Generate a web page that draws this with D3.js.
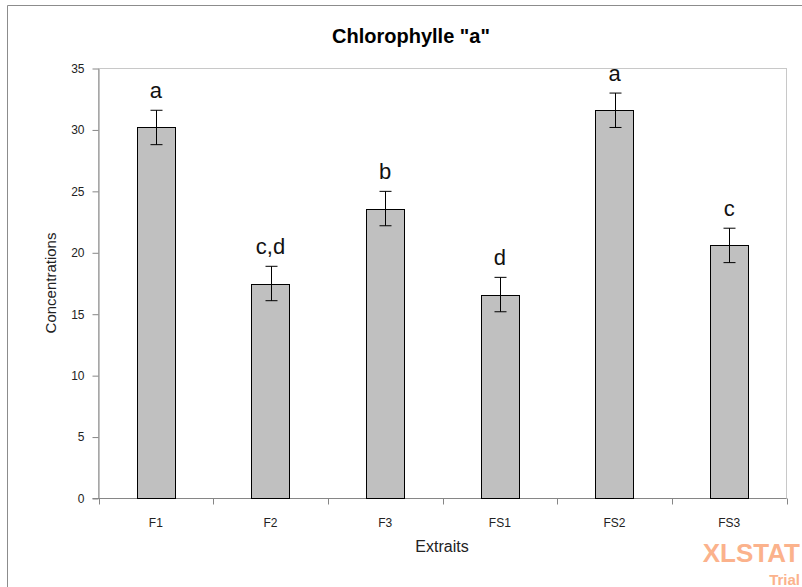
<!DOCTYPE html>
<html>
<head>
<meta charset="utf-8">
<script src="https://cdn.jsdelivr.net/npm/d3@7"></script>
<style>
body { margin: 0; background: #fff; }
</style>
</head>
<body>
<div id="chart-area"></div>
<script>
let width = 802,
height = 587;

// data
let categories = ["F1", "F2", "F3", "FS1", "FS2", "FS3"];
let means = [30.2, 17.5, 23.6, 16.6, 31.6, 20.6];
let errors = [1.4, 1.4, 1.4, 1.4, 1.4, 1.4];
let groups = ["a", "c,d", "b", "d", "a", "c"];
let yTicks = [0, 5, 10, 15, 20, 25, 30, 35];

let narrow = "'Liberation Sans Narrow', 'Arial Narrow', 'Liberation Sans', Arial, sans-serif";

let svg = d3.select("#chart-area").append("svg")
	.attr("width", width)
	.attr("height", height);

// outer chart border
svg.append("path")
	.attr("d", "M7.5," + height + "V5.5H" + width)
	.attr("fill", "none")
	.attr("stroke", "#8c8c8c");

let pLeft = 98.5, pRight = 786.5, pTop = 68.5, pBottom = 498.5;

let x = d3.scaleBand()
	.domain(categories)
	.range([pLeft, pRight]);

let y = d3.scaleLinear()
	.domain([0, 35])
	.range([pBottom, pTop]);

// plot area frame
svg.append("rect")
	.attr("x", pLeft)
	.attr("y", pTop)
	.attr("width", pRight - pLeft)
	.attr("height", pBottom - pTop)
	.attr("fill", "none")
	.attr("stroke", "#c8c8c8");

// y axis
let yAxis = svg.append("g")
	.attr("transform", "translate(" + pLeft + ",0)")
	.call(d3.axisLeft(y).tickValues(yTicks).tickSize(6).tickPadding(8).tickSizeOuter(0));
yAxis.select(".domain").attr("stroke", "#868686");
yAxis.selectAll(".tick line").attr("stroke", "#868686");
yAxis.selectAll("text")
	.attr("font-family", narrow)
	.attr("font-size", 12)
	.attr("fill", "#222");

// x axis, ticks between categories
let xAxis = svg.append("g")
	.attr("transform", "translate(0," + pBottom + ")");
xAxis.append("line")
	.attr("x1", pLeft - 6).attr("x2", pRight)
	.attr("stroke", "#868686");
let edges = categories.map(c => x(c)).concat([pRight]);
xAxis.selectAll(".xt")
	.data(edges)
	.enter().append("line")
	.attr("class", "xt")
	.attr("x1", d => Math.round(d) + 0.5)
	.attr("x2", d => Math.round(d) + 0.5)
	.attr("y1", 0)
	.attr("y2", 6)
	.attr("stroke", "#868686");
xAxis.selectAll(".xl")
	.data(categories)
	.enter().append("text")
	.attr("class", "xl")
	.attr("x", d => x(d) + x.bandwidth() / 2)
	.attr("y", 28)
	.attr("text-anchor", "middle")
	.attr("font-family", narrow)
	.attr("font-size", 12)
	.attr("fill", "#222")
	.text(d => d);

// bars
let barW = x.bandwidth() * 0.335;
svg.selectAll(".bar")
	.data(categories)
	.enter().append("rect")
	.attr("class", "bar")
	.attr("x", d => Math.round(x(d) + x.bandwidth() / 2 - barW / 2) + 0.5)
	.attr("width", Math.round(barW))
	.attr("y", (d, i) => Math.round(y(means[i])) + 0.5)
	.attr("height", (d, i) => pBottom - (Math.round(y(means[i])) + 0.5))
	.attr("fill", "#c0c0c0")
	.attr("stroke", "#000")
	.attr("stroke-width", 1);

// error bars
let eb = svg.selectAll(".err")
	.data(categories)
	.enter().append("g")
	.attr("class", "err")
	.attr("transform", d => "translate(" + (Math.round(x(d) + x.bandwidth() / 2) + 0.5) + ",0)");
eb.append("line")
	.attr("y1", (d, i) => y(means[i] + errors[i]))
	.attr("y2", (d, i) => y(means[i] - errors[i]))
	.attr("stroke", "#000");
eb.append("line")
	.attr("x1", -6).attr("x2", 6)
	.attr("y1", (d, i) => y(means[i] + errors[i]))
	.attr("y2", (d, i) => y(means[i] + errors[i]))
	.attr("stroke", "#000");
eb.append("line")
	.attr("x1", -6).attr("x2", 6)
	.attr("y1", (d, i) => y(means[i] - errors[i]))
	.attr("y2", (d, i) => y(means[i] - errors[i]))
	.attr("stroke", "#000");

// group letters
svg.selectAll(".grp")
	.data(categories)
	.enter().append("text")
	.attr("class", "grp")
	.attr("x", d => x(d) + x.bandwidth() / 2)
	.attr("y", (d, i) => y(means[i] + errors[i]) - 12)
	.attr("text-anchor", "middle")
	.attr("font-family", "'Liberation Sans', Arial, sans-serif")
	.attr("font-size", 22)
	.attr("fill", "#111")
	.text((d, i) => groups[i]);

// titles
svg.append("text")
	.attr("x", 411)
	.attr("y", 43)
	.attr("text-anchor", "middle")
	.attr("font-family", narrow)
	.attr("font-weight", "bold")
	.attr("font-size", 20)
	.text('Chlorophylle "a"');

svg.append("text")
	.attr("x", 442)
	.attr("y", 552)
	.attr("text-anchor", "middle")
	.attr("font-family", narrow)
	.attr("font-size", 16)
	.attr("fill", "#222")
	.text("Extraits");

svg.append("text")
	.attr("transform", "translate(56,283) rotate(-90)")
	.attr("text-anchor", "middle")
	.attr("font-family", "'Liberation Sans', Arial, sans-serif")
	.attr("font-size", 15)
	.attr("fill", "#222")
	.text("Concentrations");

// watermark
svg.append("text")
	.attr("x", 800)
	.attr("y", 562)
	.attr("text-anchor", "end")
	.attr("font-family", "'Liberation Sans', Arial, sans-serif")
	.attr("font-weight", "bold")
	.attr("font-size", 26)
	.attr("fill", "#fbb28c")
	.text("XLSTAT");
svg.append("text")
	.attr("x", 800)
	.attr("y", 585)
	.attr("text-anchor", "end")
	.attr("font-family", "'Liberation Sans', Arial, sans-serif")
	.attr("font-weight", "bold")
	.attr("font-size", 15)
	.attr("fill", "#fbb28c")
	.text("Trial");
</script>
</body>
</html>
